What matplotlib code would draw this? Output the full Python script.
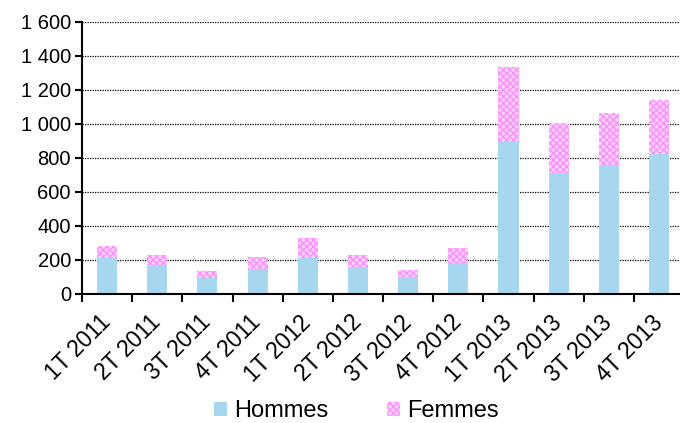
import matplotlib.pyplot as plt
import numpy as np

trimestres = ["1T 2011", "2T 2011", "3T 2011", "4T 2011",
              "1T 2012", "2T 2012", "3T 2012", "4T 2012",
              "1T 2013", "2T 2013", "3T 2013", "4T 2013"]
hommes = [213, 163, 96, 147, 210, 161, 102, 180, 896, 710, 761, 825]
femmes = [69, 66, 41, 69, 121, 68, 39, 91, 439, 296, 304, 316]

plt.rcParams['font.family'] = ['Liberation Sans', 'DejaVu Sans']
plt.rcParams['hatch.linewidth'] = 1.0

fig = plt.figure(figsize=(6.8, 4.23), dpi=100)
ax = fig.add_axes([0.1206, 0.305, 0.8854, 0.643])

x = np.arange(len(trimestres))
ax.bar(x, hommes, width=0.4, color='#A6D7EE', label='Hommes', zorder=2)
ax.bar(x, femmes, width=0.4, bottom=hommes, facecolor='#FFD6FF',
       edgecolor='#FF8CFF', hatch='xxxxx', linewidth=0, label='Femmes', zorder=2)

ax.set_xlim(-0.5, len(trimestres) - 0.5)
ax.set_ylim(0, 1600)
ax.set_yticks(range(0, 1601, 200))
ax.set_yticklabels([f"{v:,}".replace(",", " ") for v in range(0, 1601, 200)])
ax.yaxis.grid(True, linestyle=(0, (1, 1)), color='black', linewidth=0.9, zorder=0)

ax.set_xticks(x)
ax.set_xticklabels(trimestres, rotation=45, ha='right', va='center',
                   rotation_mode='anchor')
ax.set_xticks(np.arange(-0.5, len(trimestres)), minor=True)
ax.tick_params(axis='x', which='major', length=0, pad=18, labelsize=16.5)
ax.tick_params(axis='x', which='minor', length=6, width=1.5, direction='out')
ax.tick_params(axis='y', length=5, width=1.5, labelsize=14.5, pad=3)

for s in ['top', 'right']:
    ax.spines[s].set_visible(False)
for s in ['left', 'bottom']:
    ax.spines[s].set_linewidth(1.5)

fig.legend(loc='center', bbox_to_anchor=(0.524, 0.028), ncol=2, frameon=False,
           fontsize=17, handlelength=0.55, handleheight=0.55, columnspacing=2.45,
           handletextpad=0.3)

fig.savefig('out.png', dpi=100)
